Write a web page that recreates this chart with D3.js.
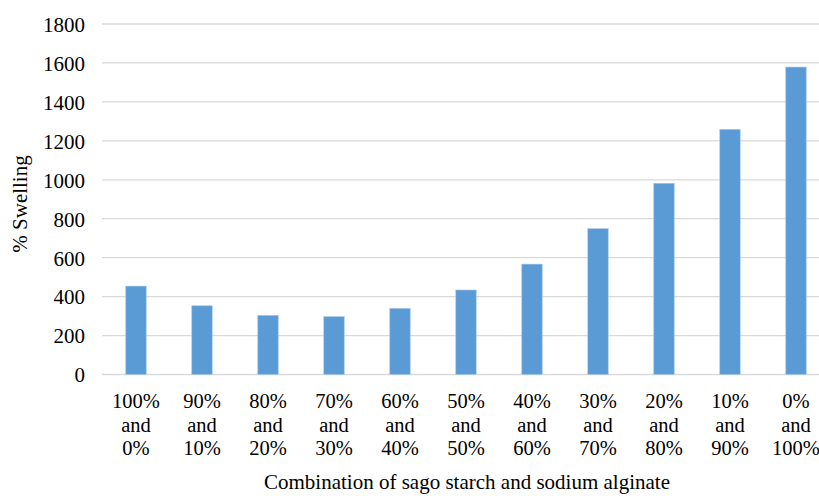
<!DOCTYPE html>
<html>
<head>
<meta charset="utf-8">
<script src="https://cdn.jsdelivr.net/npm/d3@7"></script>
</head>
<body style="margin:0">
<svg id="s" width="819" height="496"></svg>
<script>
// Swelling of sago starch / sodium alginate blends
const categories = [
  ["100%", "and", "0%"],
  ["90%", "and", "10%"],
  ["80%", "and", "20%"],
  ["70%", "and", "30%"],
  ["60%", "and", "40%"],
  ["50%", "and", "50%"],
  ["40%", "and", "60%"],
  ["30%", "and", "70%"],
  ["20%", "and", "80%"],
  ["10%", "and", "90%"],
  ["0%", "and", "100%"]
];
const swelling = [454, 353, 304, 297, 340, 434, 567, 749, 982, 1259, 1579];
const yTicks = [0, 200, 400, 600, 800, 1000, 1200, 1400, 1600, 1800];
const xTitle = "Combination of sago starch and sodium alginate";
const yTitle = "% Swelling";

const svg = d3.select("#s");
const keys = categories.map(c => c.join(" "));

const x = d3.scaleBand()
  .domain(keys)
  .range([103, 829])
  .paddingInner(0.69)
  .paddingOuter(0.345);

const y = d3.scaleLinear()
  .domain([0, 1800])
  .range([374.5, 24]);

// horizontal gridlines
svg.append("g")
  .selectAll("line")
  .data(yTicks)
  .join("line")
  .attr("x1", 102)
  .attr("x2", 819)
  .attr("y1", d => y(d))
  .attr("y2", d => y(d))
  .attr("stroke", "#d9d9d9")
  .attr("stroke-width", 1.3);

// y axis labels
const yAxis = d3.axisLeft(y)
  .tickValues(yTicks)
  .tickFormat(d3.format("d"))
  .tickSize(0)
  .tickPadding(0);
const gy = svg.append("g")
  .attr("transform", "translate(85,0)")
  .call(yAxis);
gy.select(".domain").remove();
gy.selectAll("text")
  .style("font-family", "'Liberation Serif'")
  .attr("font-size", 21)
  .attr("fill", "#000")
  .attr("dy", "0.35em");

// bars
svg.append("g")
  .selectAll("rect")
  .data(swelling)
  .join("rect")
  .attr("x", (d, i) => x(keys[i]))
  .attr("width", x.bandwidth())
  .attr("y", d => y(d))
  .attr("height", d => y(0) - y(d))
  .attr("fill", "#5b9bd5")
  .attr("stroke", "#a9c9ea")
  .attr("stroke-width", 0.6);

// x labels, one text element per line
const rows = [];
categories.forEach((c, i) => c.forEach((t, j) => rows.push({ t, i, j })));
svg.append("g")
  .selectAll("text")
  .data(rows)
  .join("text")
  .attr("x", d => x(keys[d.i]) + x.bandwidth() / 2)
  .attr("y", d => 408 + d.j * 23.5)
  .attr("text-anchor", "middle")
  .style("font-family", "'Liberation Serif'")
  .attr("font-size", 20.5)
  .attr("fill", "#000")
  .text(d => d.t);

// axis titles
svg.append("text")
  .attr("x", 467)
  .attr("y", 489)
  .attr("text-anchor", "middle")
  .style("font-family", "'Liberation Serif'")
  .attr("font-size", 21)
  .attr("fill", "#000")
  .text(xTitle);

svg.append("text")
  .attr("transform", "translate(27,204) rotate(-90)")
  .attr("text-anchor", "middle")
  .style("font-family", "'Liberation Serif'")
  .attr("font-size", 21)
  .attr("fill", "#000")
  .text(yTitle);
</script>
</body>
</html>
